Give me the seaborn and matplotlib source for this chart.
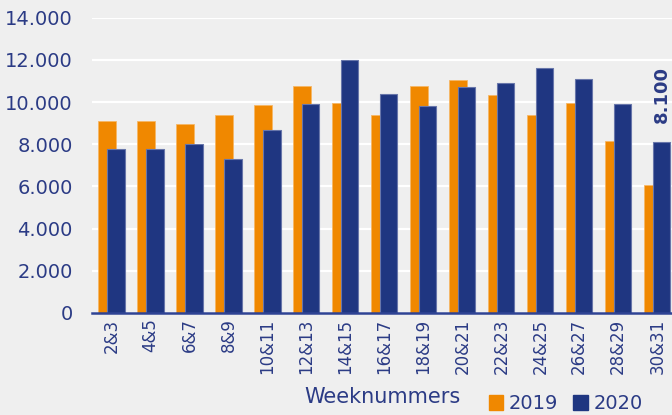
import numpy as np
import pandas as pd
import matplotlib.pyplot as plt
import seaborn as sns
from matplotlib.patches import Patch

# data
weeks = ['2&3', '4&5', '6&7', '8&9', '10&11', '12&13', '14&15', '16&17',
         '18&19', '20&21', '22&23', '24&25', '26&27', '28&29', '30&31']
v2019 = [9100, 9100, 8950, 9400, 9850, 10750, 9950, 9400,
         10750, 11050, 10350, 9400, 9950, 8150, 6050]
v2020 = [7800, 7800, 8000, 7300, 8700, 9900, 12000, 10400,
         9800, 10700, 10900, 11600, 11100, 9900, 8100]
years = ['2019', '2020']

df = pd.DataFrame({
    'week': weeks * 2,
    'jaar': [years[0]] * len(weeks) + [years[1]] * len(weeks),
    'aantal': v2019 + v2020,
})

orange = '#f08800'
blue = '#1f3681'
txt = '#2b3b85'
bg = '#efefef'

sns.set_theme(style='white')
plt.rcParams['font.family'] = ['DejaVu Sans']

fig = plt.figure(figsize=(6.72, 4.15), dpi=100, facecolor=bg)
ax = fig.add_axes([0.137, 0.246, 0.863, 0.711])
ax.set_facecolor(bg)

sns.barplot(data=df, x='week', y='aantal', hue='jaar', palette=[orange, blue],
            width=0.9, gap=0, saturation=1, legend=False, ax=ax)

# bars of the two years overlap a bit, 2020 in front
for bar in ax.containers[0]:
    bar.set_x(bar.get_x() + 0.115)
    bar.set_zorder(2)
    bar.set_edgecolor('#f6b766')
    bar.set_linewidth(0.6)
for bar in ax.containers[1]:
    bar.set_x(bar.get_x() - 0.115)
    bar.set_zorder(3)
    bar.set_edgecolor('#6876aa')
    bar.set_linewidth(0.8)

ax.set_ylim(0, 14000)
ax.set_xlim(-0.5, 14.38)
ax.set_yticks(range(0, 14001, 2000))
ax.set_yticklabels(['{:,.0f}'.format(t).replace(',', '.') for t in range(0, 14001, 2000)])
ax.yaxis.grid(True, color='white', lw=1.6)
ax.set_axisbelow(True)

for s in ['top', 'left', 'right']:
    ax.spines[s].set_visible(False)
ax.spines['bottom'].set_color('#2e4394')
ax.spines['bottom'].set_linewidth(1.8)
ax.spines['bottom'].set_zorder(4)

ax.tick_params(axis='y', length=0, pad=14, labelsize=14, labelcolor=txt)
ax.tick_params(axis='x', length=0, pad=4, labelsize=12, labelcolor=txt, rotation=90)

ax.set_ylabel('')
ax.set_xlabel('Weeknummers', fontsize=15, color=txt)
ax.xaxis.set_label_coords(0.5, -0.25)

# value label on the last 2020 bar
last = ax.containers[1][-1]
ax.annotate('{:,.0f}'.format(v2020[-1]).replace(',', '.'),
            (last.get_x() + last.get_width() / 2, last.get_height()),
            xytext=(0, 14), textcoords='offset points', rotation=90,
            ha='center', va='bottom', fontsize=13, fontweight='bold', color=txt,
            annotation_clip=False)

handles = [Patch(color=orange, label=years[0]), Patch(color=blue, label=years[1])]
fig.legend(handles=handles, loc='center left', bbox_to_anchor=(0.727, 0.027),
           ncol=2, frameon=False, handlelength=0.75, handleheight=0.75,
           handletextpad=0.3, columnspacing=0.75, fontsize=14, labelcolor=txt,
           borderpad=0, borderaxespad=0)

fig.savefig('out.png', dpi=100, facecolor=bg)
